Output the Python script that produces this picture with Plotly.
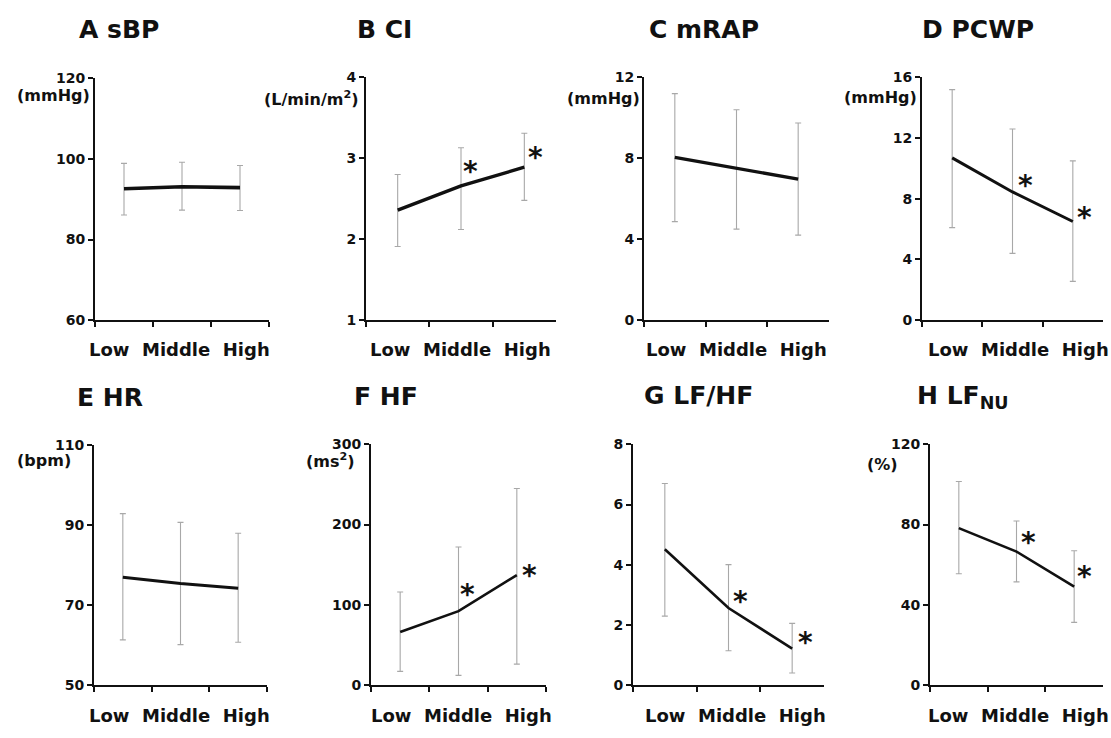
import plotly.graph_objects as go

W, H = 1111, 738

# ---------------- data ----------------
categories = ["Low", "Middle", "High"]

sbp_mean = [92.6, 93.1, 92.9]
sbp_upper = [98.9, 99.2, 98.4]
sbp_lower = [86.1, 87.3, 87.2]

ci_mean = [2.36, 2.66, 2.89]
ci_upper = [2.80, 3.13, 3.31]
ci_lower = [1.91, 2.12, 2.48]

mrap_mean = [8.05, 7.5, 6.97]
mrap_upper = [11.2, 10.4, 9.75]
mrap_lower = [4.87, 4.5, 4.2]

pcwp_mean = [10.7, 8.45, 6.5]
pcwp_upper = [15.2, 12.6, 10.5]
pcwp_lower = [6.1, 4.4, 2.55]

hr_mean = [77.0, 75.4, 74.2]
hr_upper = [92.9, 90.7, 88.0]
hr_lower = [61.3, 60.1, 60.7]

hf_mean = [66, 92, 137]
hf_upper = [116, 172, 245]
hf_lower = [17, 12, 26]

lfhf_mean = [4.51, 2.56, 1.21]
lfhf_upper = [6.70, 4.00, 2.05]
lfhf_lower = [2.29, 1.14, 0.40]

lfnu_mean = [78.2, 66.5, 49.0]
lfnu_upper = [101.5, 81.8, 66.9]
lfnu_lower = [55.5, 51.4, 31.2]

sig_none = [False, False, False]
sig_mid_high = [False, True, True]

yticks_sbp = [60, 80, 100, 120]
yticks_ci = [1, 2, 3, 4]
yticks_mrap = [0, 4, 8, 12]
yticks_pcwp = [0, 4, 8, 12, 16]
yticks_hr = [50, 70, 90, 110]
yticks_hf = [0, 100, 200, 300]
yticks_lfhf = [0, 2, 4, 6, 8]
yticks_lfnu = [0, 40, 80, 120]

titles = ["A sBP", "B CI", "C mRAP", "D PCWP", "E HR", "F HF", "G LF/HF",
          "H LF<sub>NU</sub>"]
units = ["(mmHg)", "(L/min/m<sup>2</sup>)", "(mmHg)", "(mmHg)", "(bpm)",
         "(ms<sup>2</sup>)", "", "(%)"]

# ---------------- styling / layout ----------------
FONT = "DejaVu Sans"
INK = "#111111"

panels = [
    dict(mean=sbp_mean, up=sbp_upper, lo=sbp_lower, ticks=yticks_sbp, sig=sig_none,
         box=(95, 269, 72, 319), lw=3.6, title=(77, 22), unit=(92, 89),
         cat=(87, 349), ast=[]),
    dict(mean=ci_mean, up=ci_upper, lo=ci_lower, ticks=yticks_ci, sig=sig_mid_high,
         box=(366, 556, 71, 319), lw=3.4, title=(355, 22), unit=(361, 92),
         cat=(368, 349), ast=[(9, 15), (11, 11)]),
    dict(mean=mrap_mean, up=mrap_upper, lo=mrap_lower, ticks=yticks_mrap, sig=sig_none,
         box=(644, 829, 71, 319), lw=3.4, title=(647, 22), unit=(642, 92),
         cat=(644, 349), ast=[]),
    dict(mean=pcwp_mean, up=pcwp_upper, lo=pcwp_lower, ticks=yticks_pcwp, sig=sig_mid_high,
         box=(922, 1103, 71, 319), lw=3.0, title=(920, 22), unit=(919, 91.5),
         cat=(926, 349), ast=[(13, 7), (12, 5)]),
    dict(mean=hr_mean, up=hr_upper, lo=hr_lower, ticks=yticks_hr, sig=sig_none,
         box=(94, 267, 447, 692), lw=3.0, title=(75, 398), unit=(73, 463),
         cat=(87, 723), ast=[]),
    dict(mean=hf_mean, up=hf_upper, lo=hf_lower, ticks=yticks_hf, sig=sig_mid_high,
         box=(371, 546, 446, 692), lw=2.6, title=(352, 397), unit=(357, 463),
         cat=(369, 723), ast=[(9, 18), (13, 1)]),
    dict(mean=lfhf_mean, up=lfhf_upper, lo=lfhf_lower, ticks=yticks_lfhf, sig=sig_mid_high,
         box=(633, 824, 446, 692), lw=2.6, title=(642, 396), unit=None,
         cat=(643, 723), ast=[(12, 7), (13, 7)]),
    dict(mean=lfnu_mean, up=lfnu_upper, lo=lfnu_lower, ticks=yticks_lfnu, sig=sig_mid_high,
         box=(930, 1103, 446, 692), lw=2.6, title=(915, 398), unit=(900, 467),
         cat=(926, 723), ast=[(12, 10), (10, 11)]),
]

fig = go.Figure()
layout = dict(
    width=W, height=H, margin=dict(l=0, r=0, t=0, b=0),
    paper_bgcolor="white", plot_bgcolor="white", showlegend=False,
    font=dict(family=FONT, color=INK),
)
annotations = []

for i, p in enumerate(panels):
    sfx = "" if i == 0 else str(i + 1)
    mean, up, lo = p["mean"], p["up"], p["lo"]
    fig.add_trace(go.Scatter(
        x=categories, y=mean, mode="lines",
        line=dict(color=INK, width=p["lw"]),
        error_y=dict(type="data", symmetric=False,
                     array=[u - m for u, m in zip(up, mean)],
                     arrayminus=[m - l for m, l in zip(mean, lo)],
                     color="#a8a8a8", thickness=1.1, width=3),
        xaxis="x" + sfx, yaxis="y" + sfx, hoverinfo="skip", showlegend=False,
    ))
    x0, x1, y0, y1 = p["box"]
    layout["xaxis" + sfx] = dict(
        domain=[x0 / W, x1 / W], anchor="y" + sfx, type="category",
        categoryorder="array", categoryarray=categories, range=[-0.5, 2.5],
        showticklabels=False, ticks="outside", tickson="boundaries",
        ticklen=5, tickwidth=2, tickcolor=INK,
        showline=True, linewidth=2, linecolor=INK,
        showgrid=False, zeroline=False, fixedrange=True,
    )
    t = p["ticks"]
    layout["yaxis" + sfx] = dict(
        domain=[1 - y1 / H, 1 - y0 / H], anchor="x" + sfx,
        range=[t[0], t[-1]], tickmode="array", tickvals=t,
        ticks="outside", ticklen=5, tickwidth=2, tickcolor=INK,
        showline=True, linewidth=2, linecolor=INK,
        showgrid=False, zeroline=False, fixedrange=True,
        tickfont=dict(family=FONT, size=14, color=INK, weight="bold"),
    )
    # panel title
    tx, ty = p["title"]
    annotations.append(dict(
        text=titles[i], xref="paper", yref="paper", x=tx / W, y=1 - ty / H,
        xanchor="left", yanchor="middle", showarrow=False,
        font=dict(family=FONT, size=25, color=INK, weight="bold"),
    ))
    # unit label
    if p["unit"] is not None and units[i]:
        ux, uy = p["unit"]
        annotations.append(dict(
            text=units[i], xref="paper", yref="paper", x=ux / W, y=1 - uy / H,
            xanchor="right", yanchor="middle", showarrow=False,
            font=dict(family=FONT, size=16, color=INK, weight="bold"),
        ))
    # category labels
    cx, cy = p["cat"]
    annotations.append(dict(
        text="\u00a0\u00a0".join(categories), xref="paper", yref="paper",
        x=cx / W, y=1 - cy / H, xanchor="left", yanchor="middle", showarrow=False,
        font=dict(family=FONT, size=18, color=INK, weight="bold"),
    ))
    # significance asterisks
    k = 0
    for j, s in enumerate(p["sig"]):
        if s:
            dx, dy = p["ast"][k]
            k += 1
            annotations.append(dict(
                text="*", xref="x" + sfx, yref="y" + sfx, x=categories[j], y=mean[j],
                xanchor="center", yanchor="middle", xshift=dx, yshift=dy - 1,
                showarrow=False,
                font=dict(family=FONT, size=28, color=INK, weight="bold"),
            ))

layout["annotations"] = annotations
fig.update_layout(**layout)
fig.write_html("out.html", config={"displayModeBar": False},
               post_script="document.body.style.margin='0';document.body.style.overflow='hidden';")
